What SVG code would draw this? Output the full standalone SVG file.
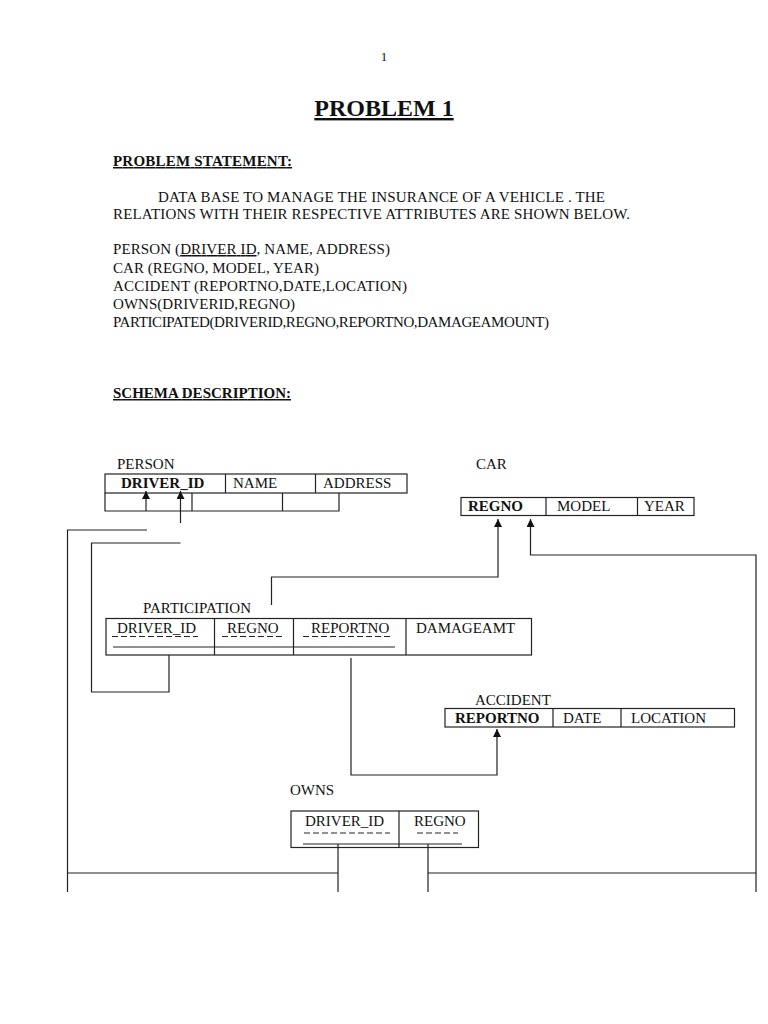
<svg xmlns="http://www.w3.org/2000/svg" width="768" height="1024" viewBox="0 0 768 1024">
<defs>
<style>
text{font-family:"Liberation Serif","Times New Roman",serif;font-size:15px;fill:#111}
.b{font-weight:bold}
.u{text-decoration:underline}
.box{fill:none;stroke:#222;stroke-width:1.2}
.ln{fill:none;stroke:#222;stroke-width:1.2}
.dash{fill:none;stroke:#222;stroke-width:1;stroke-dasharray:6 3}
</style>
<marker id="ah" viewBox="0 0 10 10" refX="10" refY="5" markerWidth="10" markerHeight="8" orient="auto" markerUnits="userSpaceOnUse">
<path d="M0,0 L10,5 L0,10 Z" fill="#111"/>
</marker>
</defs>
<rect width="768" height="1024" fill="#fff"/>

<g id="header">
<text x="384" y="61" text-anchor="middle" style="font-size:13px">1</text>
<text x="384" y="116" text-anchor="middle" class="b u" style="font-size:24px">PROBLEM 1</text>
<text x="113" y="166" class="b u" textLength="179">PROBLEM STATEMENT:</text>
<text x="158" y="202" textLength="447">DATA BASE TO MANAGE THE INSURANCE OF A VEHICLE . THE</text>
<text x="113" y="219" textLength="517">RELATIONS WITH THEIR RESPECTIVE ATTRIBUTES ARE SHOWN BELOW.</text>
<text x="113" y="254" textLength="277">PERSON (<tspan class="u">DRIVER ID</tspan>, NAME, ADDRESS)</text>
<text x="113" y="273" textLength="206">CAR (REGNO, MODEL, YEAR)</text>
<text x="113" y="291" textLength="294">ACCIDENT (REPORTNO,DATE,LOCATION)</text>
<text x="113" y="309" textLength="182">OWNS(DRIVERID,REGNO)</text>
<text x="113" y="327" textLength="436">PARTICIPATED(DRIVERID,REGNO,REPORTNO,DAMAGEAMOUNT)</text>
<text x="113" y="398" class="b u" textLength="178">SCHEMA DESCRIPTION:</text>
</g>

<g id="person">
<text x="117" y="469">PERSON</text>
<rect class="box" x="105" y="474" width="302" height="19"/>
<path class="ln" d="M225.5,474 V493 M315.5,474 V493 M105,493 V511 H339 V493 M192,493 V511 M282.5,493 V511"/>
<text x="121" y="488" class="b">DRIVER_ID</text>
<text x="233" y="488">NAME</text>
<text x="323" y="488">ADDRESS</text>
</g>

<g id="car">
<text x="476" y="469">CAR</text>
<rect class="box" x="461" y="497.5" width="233" height="18"/>
<path class="ln" d="M546,497.5 V515.5 M637.5,497.5 V515.5"/>
<text x="468" y="511" class="b">REGNO</text>
<text x="557" y="511">MODEL</text>
<text x="644" y="511">YEAR</text>
</g>

<g id="participation">
<text x="143" y="613">PARTICIPATION</text>
<rect class="box" x="106" y="618.5" width="425.5" height="36.5"/>
<path class="ln" d="M214.5,618.5 V655 M293.5,618.5 V655 M406,618.5 V655"/>
<text x="117" y="633">DRIVER_ID</text>
<text x="227" y="633">REGNO</text>
<text x="311" y="633">REPORTNO</text>
<text x="416" y="633">DAMAGEAMT</text>
<path class="dash" d="M112,636.5 H198 M222,636.5 H283 M303,636.5 H393"/>
<path class="ln" d="M113,647 H395"/>
</g>

<g id="accident">
<text x="475" y="705">ACCIDENT</text>
<rect class="box" x="445" y="708.5" width="289.5" height="18.5"/>
<path class="ln" d="M553,708.5 V727 M621,708.5 V727"/>
<text x="455" y="723" class="b">REPORTNO</text>
<text x="563" y="723">DATE</text>
<text x="631" y="723">LOCATION</text>
</g>

<g id="owns">
<text x="290" y="795">OWNS</text>
<rect class="box" x="291" y="811" width="187.5" height="36.5"/>
<path class="ln" d="M399,811 V847.5"/>
<text x="305" y="826">DRIVER_ID</text>
<text x="414" y="826">REGNO</text>
<path class="dash" d="M304,833 H390 M417,833 H458"/>
<path class="ln" d="M303,844 H462"/>
</g>

<g id="connectors">
<path class="ln" d="M146,511 V491" marker-end="url(#ah)"/>
<path class="ln" d="M180.5,523 V491" marker-end="url(#ah)"/>
<path class="ln" d="M147,530 H67.5 V892"/>
<path class="ln" d="M180.5,543 H91.5 V692 H169 V655"/>
<path class="ln" d="M271.5,605 V577 H498 V519" marker-end="url(#ah)"/>
<path class="ln" d="M756,892 V555 H530.5 V519" marker-end="url(#ah)"/>
<path class="ln" d="M351,658 V775 H497 V729" marker-end="url(#ah)"/>
<path class="ln" d="M67.5,873 H338 M338,844 V892 M428,844 V892 M428,873 H756"/>
</g>
</svg>
